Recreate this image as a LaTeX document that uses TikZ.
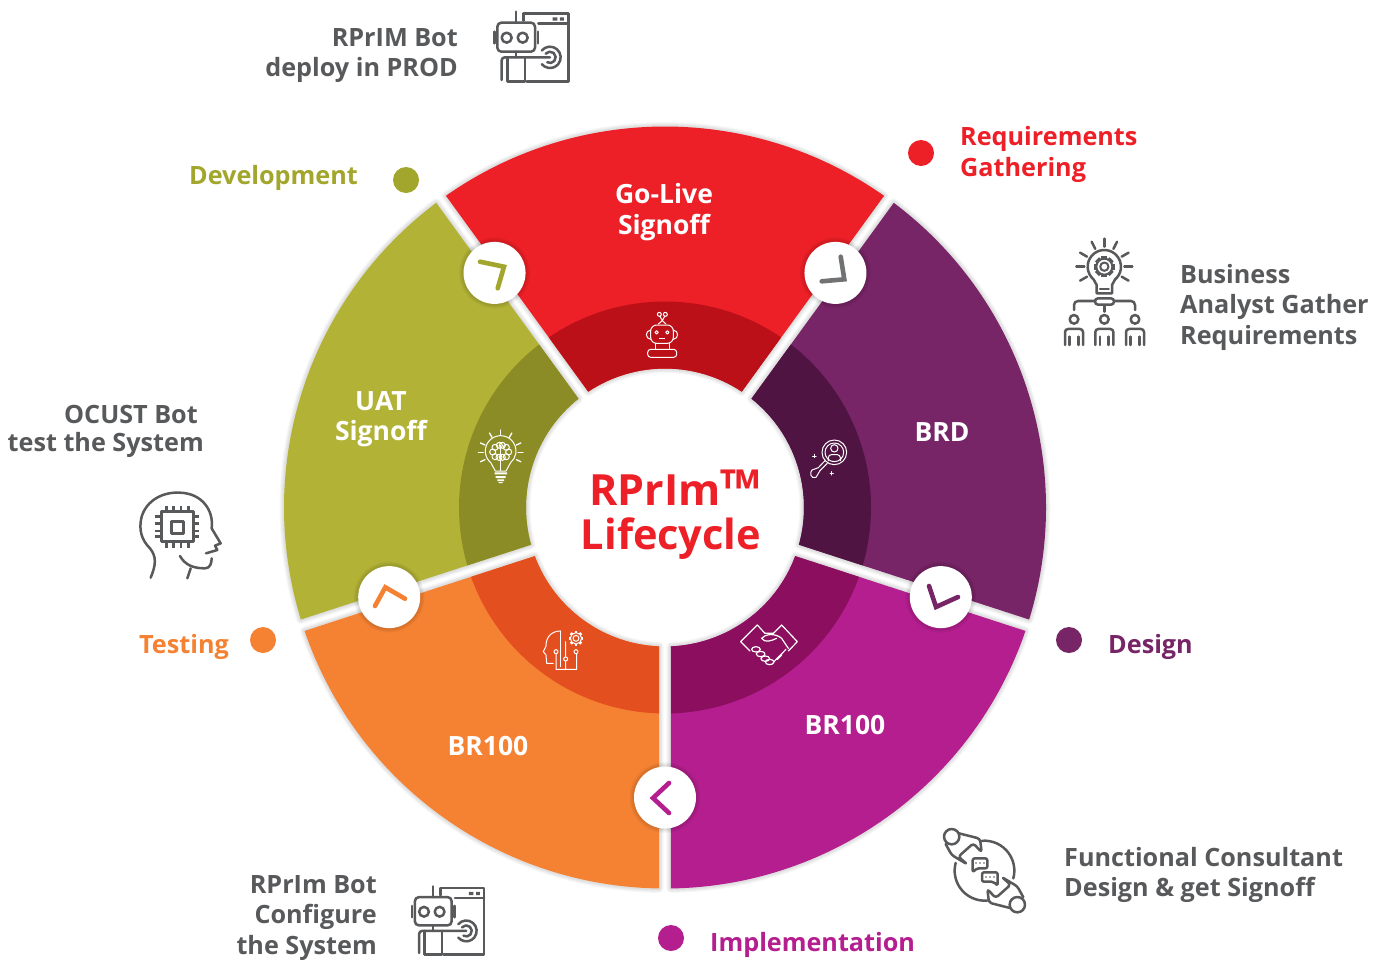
\documentclass[tikz,border=0pt]{standalone}
\usepackage{fontspec}
\setmainfont{Open Sans}
\usetikzlibrary{calc}
\definecolor{cred}{HTML}{ED1F27}\definecolor{dred}{HTML}{BB1017}
\definecolor{cpur}{HTML}{772566}\definecolor{dpur}{HTML}{4F1442}
\definecolor{cole}{HTML}{B2B236}\definecolor{dole}{HTML}{8C8C27}
\definecolor{cora}{HTML}{F58233}\definecolor{dora}{HTML}{E44F1F}
\definecolor{cmag}{HTML}{B41E8E}\definecolor{dmag}{HTML}{8B0F5E}
\definecolor{cgry}{HTML}{58595B}\definecolor{olt}{HTML}{A2A62C}
\tikzset{
 lab/.style={inner sep=0pt,font=\bfseries\fontsize{25.2}{30.5}\selectfont,text=cgry},
 wlab/.style={inner sep=0pt,font=\bfseries\fontsize{26.5}{30.5}\selectfont,text=white,align=center},
 dotn/.style={circle,inner sep=0pt,minimum size=26pt},
 hub/.style={circle,fill=white,inner sep=0pt,minimum size=62pt},
 chev/.style={line width=4.6pt,line cap=round,miter limit=4},
 ico/.style={draw=cgry,line width=2.5pt,line cap=round,line join=round},
 wic/.style={draw=white,line width=1pt,line cap=round,line join=round},
}
\newcommand\wdg[6]{% a1 a2 Rout dOut col (rin=139)
 \def\wpath{({#1+#4}:#3) arc[start angle={#1+#4},end angle={#2-#4},radius=#3] -- ({#2-2.47}:139) arc[start angle={#2-2.47},end angle={#1+2.47},radius=139] -- cycle}
 \ifx#6s\foreach \w in {9,7,5,3}{\draw[black,opacity=.03,line width=\w pt,line join=round] \wpath;}\fi
 \fill[#5] \wpath;}
\newcommand\halo[2]{\foreach \w in {9,7,5,3}{\draw[black,opacity=.03,line width=\w pt] (#1) circle[radius=#2];}}
\newcommand\gearic[3]{% cx cy r
 \draw (#1,#2) circle[radius=#3];
 \draw (#1,#2) circle[radius=#3*.52];
 \foreach \a in {0,45,...,315}{\draw[line width=1.7\pgflinewidth,line cap=butt] ($(#1,#2)+(\a:#3)$) -- ($(#1,#2)+(\a:#3*1.3)$);}}
\newcommand\boticon{
 \draw (130,62)--(130,40)--(265,40)--(265,245)--(140,245);
 \draw (175,70)--(265,70);
 \fill[cgry] (218,52) rectangle (232,62) (240,52) rectangle (252,62);
 \draw (108,35)--(108,68);
 \draw[rounded corners=4pt] (52,68) rectangle (165,155);
 \draw (43,95)--(43,130) (174,95)--(174,130);
 \draw (80,113) circle[radius=15] (128,113) circle[radius=15];
 \draw (108,155)--(108,172);
 \draw[rounded corners=3pt] (65,240)--(65,172)--(210,172);
 \draw (82,172)--(82,245)--(135,245)--(135,172);
 \draw ([shift={(210,172)}]-140:17) arc[start angle=-140,end angle=120,radius=17];
 \draw ([shift={(210,172)}]-140:32) arc[start angle=-140,end angle=140,radius=32];
}
\newcommand\persona[1]{%
 \draw (#1,268) circle[radius=13];
 \draw[rounded corners=3pt] (#1-27,345)--(#1-27,297)--(#1+27,297)--(#1+27,345);
 \draw (#1-13,320)--(#1-13,345) (#1+13,320)--(#1+13,345);}
\newcommand\chathalf{
 \draw ([shift={(163,152)}]-95:90) arc[start angle=-95,end angle=15,radius=90];
 \draw (65,50) circle[radius=23];
 \draw[rounded corners=3pt] (87,40)--(150,56)--(155,97)--(130,70)--(85,110)--(112,133)--(65,105)--(47,72);
}
\begin{document}
\begin{tikzpicture}[x=1pt,y=-1pt]
\useasboundingbox (0,0) rectangle (1383,959);
\fill[white] (0,0) rectangle (1383,959);
% ---- wheel
\begin{scope}[shift={(665,507.5)},x=1pt,y=1pt]
 \wdg{54}{126}{381}{.9}{cred}{s}
 \wdg{-18}{54}{381}{.9}{cpur}{s}
 \wdg{-90}{-18}{381}{.9}{cmag}{s}
 \wdg{-162}{-90}{381}{.9}{cora}{s}
 \wdg{126}{198}{381}{.9}{cole}{s}
 \wdg{54}{126}{206}{1.67}{dred}{n}
 \wdg{-18}{54}{206}{1.67}{dpur}{n}
 \wdg{-90}{-18}{206}{1.67}{dmag}{n}
 \wdg{-162}{-90}{206}{1.67}{dora}{n}
 \wdg{126}{198}{206}{1.67}{dole}{n}
 \foreach \a/\n in {54/a,-18/b,-90/c,-162/d,126/e}{
  \coordinate (p\n) at (\a:290);
  \halo{p\n}{31}
  \node[hub] (hub\n) at (p\n) {};
 }
\end{scope}
% chevrons
\draw[chev,draw=olt] (480,261.7)--(504,266.7)--(497.7,288.3);
\draw[chev,draw=cgry!85!white] (840.7,256.7)--(844.3,279.3)--(821.7,281.3);
\draw[chev,draw=cpur] (929,586)--(936,607)--(958,597);
\draw[chev,draw=cmag] (669,783)--(653,798)--(669,813);
\draw[chev,draw=cora] (375,606)--(385.3,587.3)--(405,598.7);
% ---- wedge labels
\node[wlab] (golive) at (664,212) {Go-Live\\Signoff};
\node[wlab] (brd) at (942,432) {BRD};
\node[wlab] (brr) at (845,725) {BR100};
\node[wlab] (brl) at (488,746) {BR100};
\node[wlab] (uat) at (381,419) {UAT\\Signoff};
\node[inner sep=0pt,text=cred,anchor=base,font=\bfseries\fontsize{43}{44}\selectfont] (titlea) at (675,505.5) {RPrIm{\fontsize{54}{44}\selectfont\smash{\raisebox{-3pt}{™}}}};
\node[inner sep=0pt,text=cred,anchor=base,font=\bfseries\fontsize{41.5}{44}\selectfont] (titleb) at (671,549.5) {Lifecycle};
% ---- dots and side labels
\node[dotn,fill=cred] (d1) at (921,153) {};
\node[dotn,fill=olt] (d2) at (406,180) {};
\node[dotn,fill=cpur] (d3) at (1069,640) {};
\node[dotn,fill=cora] (d4) at (263,640) {};
\node[dotn,fill=cmag] (d5) at (671,938) {};
\node[lab,text=cred,anchor=west,align=left] (t1) at (960,154.5) {Requirements\\Gathering};
\node[lab,text=olt,anchor=east] (t2) at (358,177.5) {Development};
\node[lab,text=cpur,anchor=west] (t3) at (1108,646.5) {Design};
\node[lab,text=cora,anchor=east] (t4) at (229,646.5) {Testing};
\node[lab,text=cmag,anchor=west] (t5) at (710,944.5) {Implementation};
\node[lab,anchor=east,align=right] (t6) at (458,55.5) {RPrIM Bot\\deploy in PROD};
\node[lab,anchor=west,align=left] (t7) at (1180,307) {Business\\Analyst Gather\\Requirements};
\node[lab,anchor=east] (t8a) at (198,414) {OCUST Bot};
\node[lab,anchor=east] (t8b) at (204,445) {test the System};
\node[lab,anchor=west,align=left] (t9) at (1064,875) {Functional Consultant\\Design \& get Signoff};
\node[lab,anchor=east,align=right] (t10) at (377,918) {RPrIm Bot\\Configure\\the System};
% ---- gray icons
\begin{scope}[shift={(480,0)},x=.3333pt,y=-.3333pt,ico]
 \boticon
\end{scope}
\begin{scope}[shift={(398,875)},x=.325pt,y=-.325pt,ico]
 \boticon
\end{scope}
% bulb & people
\begin{scope}[shift={(1050,230)},x=.3333pt,y=-.3333pt,ico]
 \foreach \a in {-90,-63,-117,-30,-150,0,180,30,150}{\draw ([shift={(163,110)}]\a:60) -- ([shift={(163,110)}]\a:84);}
 \draw ([shift={(163,110)}]130:50) arc[start angle=130,end angle=410,radius=50] -- (186,165)--(186,190)--(140,190)--(140,165)--cycle;
 \draw (150,177)--(176,177);
 \begin{scope}[line width=2pt]\gearic{163}{110}{24}\end{scope}
 \draw[rounded corners=3pt] (135,205) rectangle (192,224);
 \draw[rounded corners=4pt] (135,213)--(72,213)--(72,240);
 \draw[rounded corners=4pt] (192,213)--(255,213)--(255,240);
 \draw (163,228)--(163,245);
 \persona{72}\persona{163}\persona{255}
\end{scope}
% head & chip
\begin{scope}[shift={(130,480)},x=.3333pt,y=-.3333pt,ico]
 \draw (62,293) .. controls (78,255) and (80,230) .. (60,205) .. controls (35,180) and (25,150) .. (35,110) .. controls (50,60) and (100,35) .. (150,38) .. controls (215,40) and (252,90) .. (245,145) -- (272,190) -- (255,197) -- (262,210) -- (228,220);
 \draw (150,228) .. controls (165,255) and (190,265) .. (225,265) .. controls (240,265) and (245,250) .. (245,235);
 \draw (182,265)--(172,295);
 \draw[line width=3pt] (95,95) rectangle (190,185);
 \draw[line width=3.5pt] (125,125) rectangle (160,160);
 \foreach \p in {110,131,153,175}{\draw[line cap=butt] (\p,78)--(\p,95) (\p,185)--(\p,205);}
 \foreach \p in {110,131,153,170}{\draw[line cap=butt] (75,\p)--(95,\p) (190,\p)--(208,\p);}
\end{scope}
% chat
\begin{scope}[shift={(930,820)},x=.3333pt,y=-.3333pt,ico]
 \chathalf
 \begin{scope}[shift={(327,304)},xscale=-1,yscale=-1]\chathalf\end{scope}
 \draw[rounded corners=2pt] (128,115)--(172,115)--(172,145)--(140,145)--(128,157)--cycle;
 \draw[rounded corners=2pt] (156,157)--(203,157)--(203,197)--(190,185)--(156,185)--cycle;
 \fill[cgry] (138,129) circle[radius=2.5] (150,129) circle[radius=2.5] (162,129) circle[radius=2.5];
 \fill[cgry] (168,171) circle[radius=2.5] (180,171) circle[radius=2.5] (192,171) circle[radius=2.5];
\end{scope}
% ---- white icons
\begin{scope}[shift={(620,300)},x=.3333pt,y=-.3333pt,wic]
 \draw[rounded corners=6pt] (92,75) rectangle (160,130);
 \draw (110,97) circle[radius=5] (142,97) circle[radius=5];
 \fill[white] (117,113) rectangle (135,118);
 \draw (92,90) .. controls (75,92) and (75,116) .. (92,118);
 \draw (160,90) .. controls (177,92) and (177,116) .. (160,118);
 \draw (118,43) circle[radius=6] (136,43) circle[radius=6];
 \draw (120,49)--(127,62)--(134,49) (115,72)--(127,62)--(138,72);
 \draw (107,130)--(107,148) (148,130)--(148,148);
 \draw[rounded corners=3pt] (83,148) rectangle (170,172);
\end{scope}
\begin{scope}[shift={(460,420)},x=.3333pt,y=-.3333pt,wic]
 \draw ([shift={(122,93)}]130:46) arc[start angle=130,end angle=410,radius=46] -- (138,153)--(106,153)--cycle;
 \foreach \c in {(105,82),(118,76),(98,96),(105,110),(117,112),(139,82),(127,76),(146,96),(139,110),(127,112)}{\draw \c circle[radius=9];}
 \draw (122,75)--(122,152);
 \fill[white] (104,157) rectangle (141,163) (107,168) rectangle (137,174) (112,178) rectangle (132,183) (116,186) rectangle (128,189);
 \foreach \a in {-90,-60,-120,-25,-155,0,180,25,155}{\draw[line width=1.3pt] ([shift={(122,97)}]\a:52) -- ([shift={(122,97)}]\a:67);}
\end{scope}
\begin{scope}[shift={(790,420)},x=.3333pt,y=-.3333pt,wic]
 \draw (133,97) circle[radius=37] (133,97) circle[radius=28];
 \draw (133,85) circle[radius=11];
 \draw[rounded corners=3pt] (115,122)--(115,104)--(151,104)--(151,122);
 \draw (105,122)--(85,143) (112,130)--(90,152);
 \draw (85,143)--(66,150) .. controls (58,158) and (62,178) .. (78,172) -- (90,152);
 \draw (68,108)--(78,108) (73,103)--(73,113) (120,160)--(130,160) (125,155)--(125,165);
\end{scope}
\begin{scope}[shift={(520,610)},x=.3333pt,y=-.3333pt,wic]
 \draw (100,160)--(80,160)--(78,135)--(70,125)--(78,108) .. controls (78,80) and (95,63) .. (122,63);
 \draw (122,63)--(122,170);
 \draw (108,125) circle[radius=6] (108,132)--(108,178)--(170,178)--(170,132) (168,125) circle[radius=6];
 \draw (137,147) circle[radius=6] (137,95)--(137,140) (137,153)--(137,178);
 \gearic{168}{85}{17}
\end{scope}
\begin{scope}[shift={(520,610)},x=.3333pt,y=-.3333pt,wic,line width=1.2pt]
 % cuffs
 \draw (662,95)--(712,45) (662,95)--(690,123) (832,95)--(785,45) (832,95)--(805,123);
 \draw (712,45)--(735,70) (785,45)--(760,70);
 % top of hands and thumb
 \draw (735,70)--(760,70) (805,115)--(785,85);
 \draw (725,85) .. controls (735,72) and (765,68) .. (785,85);
 \draw (725,85) .. controls (735,100) and (755,92) .. (770,85);
 % fingers
 \foreach \c in {(708,118),(722,132),(736,146),(749,156)}{\draw \c ellipse[x radius=13,y radius=8];}
 \draw (760,157)--(798,118) (772,148)--(785,135);
 \fill[white] (677,80) circle[radius=2.5] (818,80) circle[radius=2.5];
\end{scope}
\end{tikzpicture}
\end{document}
